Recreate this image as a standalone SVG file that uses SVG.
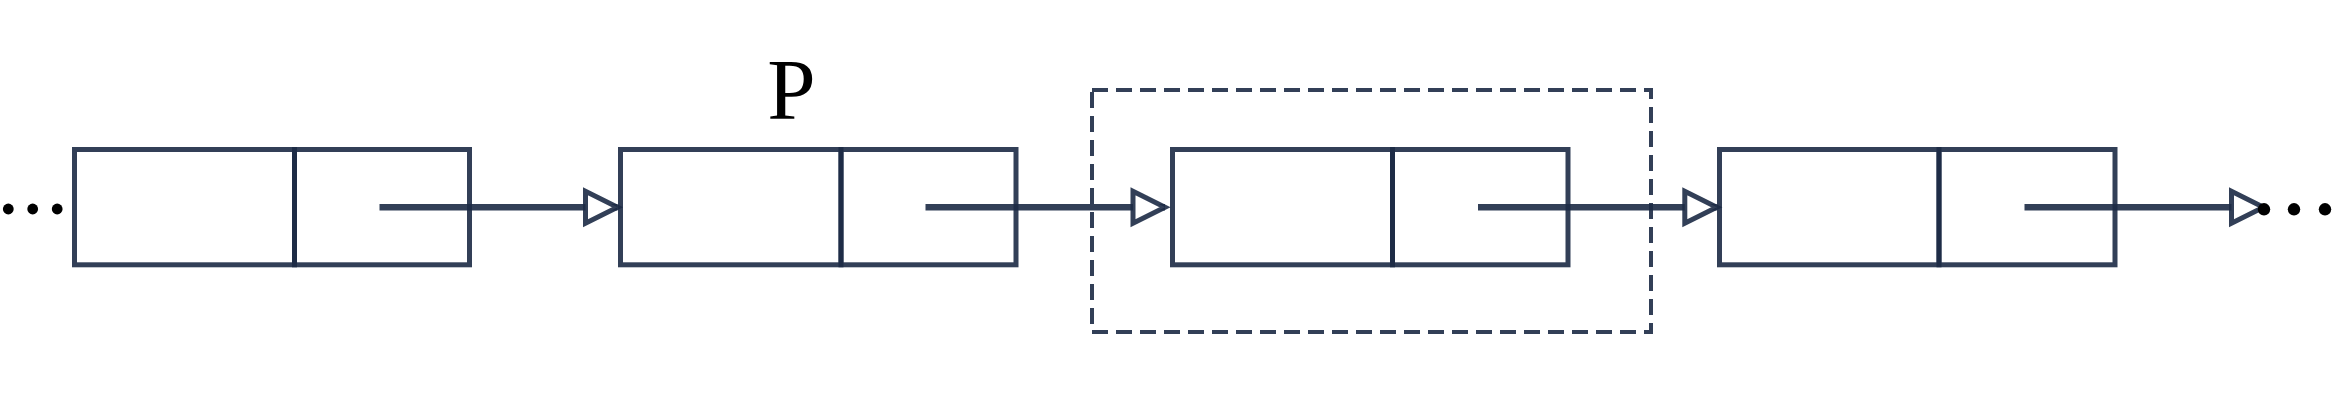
<svg xmlns="http://www.w3.org/2000/svg" width="2340" height="401" viewBox="0 0 2340 401">
  <style>
    .cell { fill: none; stroke: #1c2a45; stroke-opacity: 0.9; stroke-width: 5; }
    .link { fill: none; stroke: #1c2a45; stroke-opacity: 0.9; stroke-width: 6.5; }
    .group { fill: none; stroke: #1c2a45; stroke-opacity: 0.9; stroke-width: 4; stroke-dasharray: 16 8; }
    .dot { fill: #000000; }
    .label { font-family: "Liberation Serif", "Times New Roman", serif; font-size: 87px; fill: #000000; }
  </style>
  <defs>
    <marker id="open-arrow" markerUnits="userSpaceOnUse" markerWidth="50" markerHeight="50" viewBox="0 0 50 50" refX="37" refY="25" orient="auto">
      <polygon points="5,9 5,41 37,25" fill="#ffffff" stroke="#1c2a45" stroke-opacity="0.9" stroke-width="5"/>
    </marker>
  </defs>
  <rect width="2340" height="401" fill="#ffffff"/>

  <g id="dots-left">
    <circle class="dot" cx="8.3" cy="209" r="5.4"/>
    <circle class="dot" cx="32.7" cy="209" r="5.4"/>
    <circle class="dot" cx="57.2" cy="209" r="5.4"/>
  </g>

  <g id="node-1">
    <rect class="cell" x="74.5" y="149.5" width="220" height="115.3"/>
    <rect class="cell" x="294.5" y="149.5" width="175" height="115.3"/>
  </g>
  <g id="node-2">
    <rect class="cell" x="620.5" y="149.5" width="220.5" height="115.3"/>
    <rect class="cell" x="841" y="149.5" width="175" height="115.3"/>
  </g>
  <g id="node-3">
    <rect class="cell" x="1172.5" y="149.5" width="220" height="115.3"/>
    <rect class="cell" x="1392.5" y="149.5" width="175.5" height="115.3"/>
  </g>
  <g id="node-4">
    <rect class="cell" x="1719.5" y="149.5" width="219.5" height="115.3"/>
    <rect class="cell" x="1939" y="149.5" width="176" height="115.3"/>
  </g>

  <g id="label-p">
    <text class="label" x="791.5" y="119" text-anchor="middle">P</text>
  </g>

  <g id="connectors">
    <line class="link" x1="379.5" y1="207.3" x2="617.5" y2="207.3" marker-end="url(#open-arrow)"/>
    <line class="link" x1="925.5" y1="207.3" x2="1165" y2="207.3" marker-end="url(#open-arrow)"/>
    <line class="link" x1="1478" y1="207.3" x2="1716.8" y2="207.3" marker-end="url(#open-arrow)"/>
    <line class="link" x1="2024.5" y1="207.3" x2="2263.5" y2="207.3" marker-end="url(#open-arrow)"/>
  </g>

  <g id="selection-box">
    <path class="group" d="M1092,90 H1651 V332 H1092 Z"/>
  </g>

  <g id="dots-right">
    <circle class="dot" cx="2264" cy="209.3" r="6.2"/>
    <circle class="dot" cx="2294" cy="209.3" r="6.2"/>
    <circle class="dot" cx="2325" cy="209.3" r="6.2"/>
  </g>
</svg>
